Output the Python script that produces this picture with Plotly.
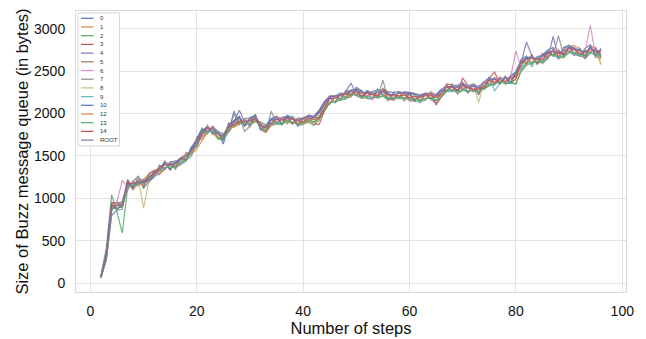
import plotly.graph_objects as go

steps = list(range(2, 97))
names = ["0", "1", "2", "3", "4", "5", "6", "7", "8", "9", "10", "12", "13", "14", "ROOT"]
colors = ["#4C72B0", "#DD8452", "#55A868", "#C44E52", "#8172B3", "#937860", "#DA8BC3",
          "#8C8C8C", "#CCB974", "#64B5CD", "#4C72B0", "#DD8452", "#55A868", "#C44E52", "#8172B3"]

s0 = [70,270,800,860,950,1100,1200,1260,1120,1200,
      1260,1290,1440,1340,1430,1480,1450,1610,1610,1750,
      1850,1760,1770,1640,1870,1910,1970,1850,1950,1980,
      1810,1790,1940,1970,1870,1980,1950,1850,1940,1980,
      1960,2030,2140,2190,2130,2240,2240,2200,2310,2270,
      2180,2170,2290,2230,2170,2250,2260,2150,2250,2230,
      2130,2240,2170,2130,2280,2340,2260,2330,2370,2240,
      2350,2220,2370,2430,2340,2430,2350,2450,2490,2640,
      2680,2580,2670,2690,2750,2780,2640,2780,2810,2700,
      2680,2770,2810,2660,2770]
s1 = [80,370,860,960,890,1220,1100,1170,1230,1280,
      1330,1280,1350,1420,1360,1410,1540,1520,1580,1680,
      1780,1850,1700,1770,1780,1860,1890,1940,1860,1920,
      1900,1860,1860,1880,1960,1900,1880,1940,1870,1910,
      1880,1940,2030,2130,2210,2160,2270,2270,2210,2190,
      2270,2250,2200,2300,2250,2160,2190,2250,2170,2150,
      2220,2160,2260,2220,2200,2260,2350,2250,2280,2330,
      2260,2320,2290,2340,2430,2350,2440,2360,2410,2540,
      2580,2700,2590,2610,2750,2680,2760,2670,2800,2800,
      2770,2650,2710,2780,2650]
s2 = [90,410,1040,840,590,1120,1200,1150,1220,1200,
      1250,1390,1350,1410,1340,1480,1450,1500,1700,1830,
      1760,1840,1700,1690,1790,2000,1870,1930,1860,1910,
      1890,1870,1860,1880,1950,1880,1970,1860,1880,1900,
      1860,1920,2040,2190,2130,2160,2170,2270,2210,2180,
      2190,2250,2180,2210,2150,2240,2180,2170,2240,2140,
      2140,2160,2250,2140,2200,2270,2340,2230,2280,2320,
      2260,2310,2290,2330,2340,2430,2350,2360,2350,2500,
      2570,2600,2670,2590,2650,2760,2660,2660,2720,2780,
      2680,2660,2800,2680,2660]
s3 = [70,310,950,940,960,1200,1110,1240,1130,1290,
      1330,1300,1440,1330,1440,1400,1530,1530,1720,1760,
      1860,1760,1780,1690,1890,1840,1870,1930,1840,1990,
      1810,1780,1860,1960,1940,1970,1880,1940,1950,1970,
      1880,1870,2030,2200,2210,2160,2270,2200,2290,2180,
      2270,2170,2270,2280,2170,2160,2260,2240,2150,2150,
      2220,2240,2240,2100,2200,2350,2340,2250,2420,2330,
      2260,2310,2290,2420,2490,2350,2430,2360,2410,2620,
      2590,2690,2580,2710,2660,2760,2650,2780,2790,2690,
      2770,2660,2800,2770,2680]
s4 = [60,290,850,950,890,1220,1120,1240,1210,1190,
      1260,1390,1340,1430,1440,1400,1440,1600,1700,1820,
      1770,1850,1790,1760,1780,2030,1890,1940,1950,1910,
      1900,1860,1940,1890,1950,1970,1880,1950,1880,1980,
      1970,2040,2140,2210,2210,2160,2260,2360,2220,2270,
      2190,2260,2280,2210,2260,2250,2180,2260,2250,2240,
      2220,2240,2170,2230,2290,2260,2340,2330,2280,2330,
      2350,2320,2380,2340,2420,2350,2440,2360,2500,2610,
      2845,2680,2590,2700,2650,2910,2660,2760,2720,2690,
      2770,2650,2720,2760,2670]
s5 = [75,300,930,950,890,1140,1200,1160,1200,1200,
      1320,1300,1340,1420,1370,1480,1520,1520,1690,1730,
      1770,1840,1770,1680,1870,1840,1960,1850,1930,1900,
      1880,1780,1940,1880,1870,1960,1880,1940,1940,1900,
      1960,1940,2120,2110,2200,2240,2180,2200,2290,2260,
      2190,2240,2190,2290,2250,2160,2260,2170,2230,2230,
      2150,2240,2180,2220,2200,2340,2270,2330,2290,2250,
      2340,2240,2370,2340,2420,2360,2430,2360,2480,2550,
      2670,2600,2670,2600,2740,2680,2740,2680,2800,2770,
      2680,2750,2720,2760,2690]
s6 = [65,360,870,960,1215,1130,1200,1160,1220,1210,
      1330,1300,1420,1420,1360,1400,1530,1520,1700,1740,
      1850,1750,1770,1680,1800,1920,1880,1930,1860,1980,
      1810,1860,1870,1880,1950,1900,1960,1860,1870,1970,
      1880,2010,2110,2120,2210,2160,2250,2280,2220,2180,
      2270,2170,2200,2290,2180,2240,2180,2250,2160,2160,
      2220,2160,2250,2220,2200,2330,2260,2250,2360,2330,
      2260,2310,2300,2410,2340,2430,2350,2430,2740,2540,
      2670,2600,2670,2610,2660,2760,2660,2760,2720,2780,
      2680,2740,3040,2680,2760]
s7 = [80,370,940,860,870,1210,1120,1240,1130,1280,
      1250,1380,1350,1410,1360,1400,1530,1520,1630,1810,
      1770,1840,1700,1760,1790,1920,1960,1790,1850,1990,
      1820,1780,2030,1880,1870,1960,1880,1930,1950,1910,
      1960,1940,2040,2200,2130,2240,2180,2280,2280,2270,
      2190,2250,2190,2394,2170,2240,2180,2240,2230,2150,
      2210,2160,2240,2140,2280,2260,2340,2260,2360,2250,
      2340,2230,2370,2350,2410,2350,2430,2360,2490,2620,
      2590,2680,2590,2690,2740,2680,2920,2680,2800,2700,
      2760,2670,2790,2680,2750]
s8 = [70,350,860,940,900,1130,1200,1240,885,1200,
      1330,1300,1430,1340,1430,1410,1530,1520,1700,1740,
      1850,1760,1700,1760,1870,1840,1880,1930,1940,1910,
      1890,1860,1860,1960,1870,1900,1960,1940,1870,1980,
      1880,2020,2120,2120,2210,2160,2260,2200,2290,2180,
      2190,2250,2270,2210,2250,2160,2260,2170,2160,2230,
      2220,2160,2250,2140,2280,2260,2340,2250,2280,2330,
      2340,2130,2370,2340,2420,2350,2430,2360,2490,2540,
      2670,2600,2670,2610,2740,2680,2740,2680,2800,2700,
      2760,2670,2800,2680,2640]
s9 = [60,290,870,930,960,1130,1190,1170,1210,1270,
      1250,1370,1350,1420,1430,1400,1450,1610,1620,1820,
      1770,1830,1780,1690,1790,1920,1880,1920,1860,1990,
      1820,1860,1940,1890,1870,1970,1960,1860,1950,1900,
      1960,2010,2040,2120,2210,2240,2180,2280,2210,2260,
      2190,2250,2270,2210,2170,2240,2180,2250,2160,2230,
      2140,2240,2170,2220,2280,2260,2260,2330,2280,2320,
      2260,2310,2290,2420,2270,2350,2430,2360,2490,2540,
      2670,2550,2670,2610,2740,2680,2660,2760,2800,2700,
      2680,2750,2720,2760,2680]
s10 = [75,350,920,880,910,1190,1130,1180,1200,1220,
       1320,1360,1420,1340,1420,1470,1460,1590,1690,1800,
       1840,1770,1770,1690,1870,1910,1950,1860,1940,1980,
       1820,1850,1930,1950,1880,1960,1950,1870,1940,1970,
       1950,2020,2120,2190,2210,2170,2250,2270,2290,2190,
       2260,2240,2200,2280,2240,2170,2250,2240,2230,2160,
       2210,2230,2180,2210,2270,2270,2330,2260,2350,2320,
       2330,2300,2300,2410,2410,2360,2420,2370,2480,2610,
       2660,2670,2600,2680,2730,2690,2730,2690,2790,2770,
       2750,2680,2790,2690,2750]
s12 = [70,300,890,930,940,1140,1190,1170,1160,1260,
       1270,1370,1360,1400,1380,1470,1470,1530,1680,1700,
       1830,1830,1710,1740,1800,1900,1890,1920,1880,1970,
       1870,1790,1880,1950,1930,1900,1950,1880,1930,1920,
       1900,1950,2100,2130,2200,2220,2200,2270,2230,2240,
       2210,2240,2210,2270,2180,2230,2200,2240,2180,2210,
       2160,2230,2190,2210,2220,2330,2280,2310,2300,2320,
       2280,2300,2310,2410,2360,2420,2370,2430,2430,2610,
       2610,2670,2610,2680,2680,2750,2680,2750,2740,2770,
       2700,2740,2740,2750,2580]
s13 = [85,300,880,880,900,1160,1150,1180,1180,1230,
       1270,1330,1360,1370,1370,1430,1450,1550,1630,1770,
       1790,1790,1710,1710,1810,1870,1890,1880,1880,1940,
       1830,1810,1870,1900,1880,1920,1900,1870,1890,1930,
       1900,1940,2040,2130,2140,2180,2190,2220,2220,2200,
       2200,2190,2200,2210,2180,2180,2190,2190,2170,2170,
       2150,2180,2180,2160,2200,2270,2280,2260,2280,2260,
       2270,2250,2300,2340,2350,2370,2360,2370,2350,2510,
       2600,2600,2610,2610,2670,2700,2670,2680,2730,2720,
       2690,2690,2720,2690,2690]
s14 = [70,350,910,910,920,1180,1170,1190,1200,1250,
       1300,1360,1400,1400,1410,1460,1500,1570,1650,1760,
       1830,1810,1760,1730,1840,1870,1910,1900,1910,1940,
       1860,1830,1890,1930,1920,1940,1930,1910,1900,1950,
       1930,1960,2060,2180,2180,2210,2230,2230,2260,2210,
       2240,2220,2220,2260,2220,2210,2210,2220,2190,2200,
       2190,2210,2220,2190,2230,2310,2310,2280,2330,2300,
       2290,2280,2320,2390,2370,2400,2380,2410,2440,2590,
       2640,2650,2640,2640,2710,2730,2710,2710,2770,2750,
       2710,2720,2770,2730,2710]
sroot = [65,310,870,920,930,1160,1170,1200,1180,1230,
         1280,1330,1400,1390,1410,1460,1500,1570,1660,1790,
         1800,1820,1760,1740,1850,1900,2040,1900,1920,1970,
         1870,1840,1920,1940,1930,1960,1940,1920,1940,1970,
         1960,2010,2110,2200,2200,2230,2240,2260,2270,2250,
         2250,2230,2250,2260,2230,2220,2240,2250,2240,2230,
         2210,2230,2240,2210,2260,2320,2320,2310,2340,2310,
         2330,2300,2360,2410,2400,2420,2420,2430,2480,2610,
         2650,2660,2650,2670,2720,2740,2720,2740,2780,2760,
         2740,2730,2770,2740,2740]

series = [s0, s1, s2, s3, s4, s5, s6, s7, s8, s9, s10, s12, s13, s14, sroot]

x_ticks = [0, 20, 40, 60, 80, 100]
y_ticks = [0, 500, 1000, 1500, 2000, 2500, 3000]

W, H = 646, 339
ML, MR, MT, MB = 76, 20, 11, 47
PW, PH = W - ML - MR, H - MT - MB

def px(xp):
    return (xp - ML) / PW

def py(yp):
    return (H - MB - yp) / PH

fig = go.Figure()
for name, col, vals in zip(names, colors, series):
    fig.add_trace(go.Scatter(x=steps, y=vals, mode="lines", name=name,
                             line=dict(color=col, width=1.2), opacity=0.85,
                             showlegend=False))

# compact legend (matplotlib-like), drawn as shapes + text
shapes = [dict(type="rect", xref="paper", yref="paper",
               x0=px(78), x1=px(119.5), y0=py(146), y1=py(13),
               line=dict(color="#d6d6d6", width=1), fillcolor="rgba(255,255,255,0.85)",
               layer="above")]
annotations = []
for i, (name, col) in enumerate(zip(names, colors)):
    yy = 18.3 + i * 8.7
    shapes.append(dict(type="line", xref="paper", yref="paper",
                       x0=px(81), x1=px(93.5), y0=py(yy), y1=py(yy),
                       line=dict(color=col, width=1.2), layer="above"))
    annotations.append(dict(xref="paper", yref="paper", x=px(97.5), y=py(yy),
                            text=name, showarrow=False, xanchor="left", yanchor="middle",
                            font=dict(size=6, color="#333333")))

fig.update_layout(
    width=W, height=H,
    margin=dict(l=ML, r=MR, t=MT, b=MB, pad=0, autoexpand=False),
    paper_bgcolor="white", plot_bgcolor="white",
    font=dict(family="Arial, Liberation Sans, sans-serif", color="#111111"),
    shapes=shapes, annotations=annotations,
    showlegend=False,
)
fig.update_xaxes(range=[-2.7, 100.7], tickvals=x_ticks, ticktext=[str(v) for v in x_ticks],
                 showgrid=True, gridcolor="#e3e3e3", gridwidth=1, zeroline=False,
                 showline=True, mirror=True, linecolor="#d9d9d9", linewidth=1,
                 ticks="outside", ticklen=6, tickcolor="rgba(0,0,0,0)",
                 tickfont=dict(size=14), automargin=False,
                 title=dict(text="Number of steps", font=dict(size=16.5), standoff=4))
fig.update_yaxes(range=[-106, 3211], tickvals=y_ticks, ticktext=[str(v) for v in y_ticks],
                 showgrid=True, gridcolor="#e3e3e3", gridwidth=1, zeroline=False,
                 showline=True, mirror=True, linecolor="#d9d9d9", linewidth=1,
                 ticks="outside", ticklen=7, tickcolor="rgba(0,0,0,0)",
                 tickfont=dict(size=14), automargin=False,
                 title=dict(text="Size of Buzz message queue (in bytes)", font=dict(size=16.5), standoff=1))

fig.write_html("out.html", config={"displayModeBar": False},
               post_script="document.body.style.margin='0';")
